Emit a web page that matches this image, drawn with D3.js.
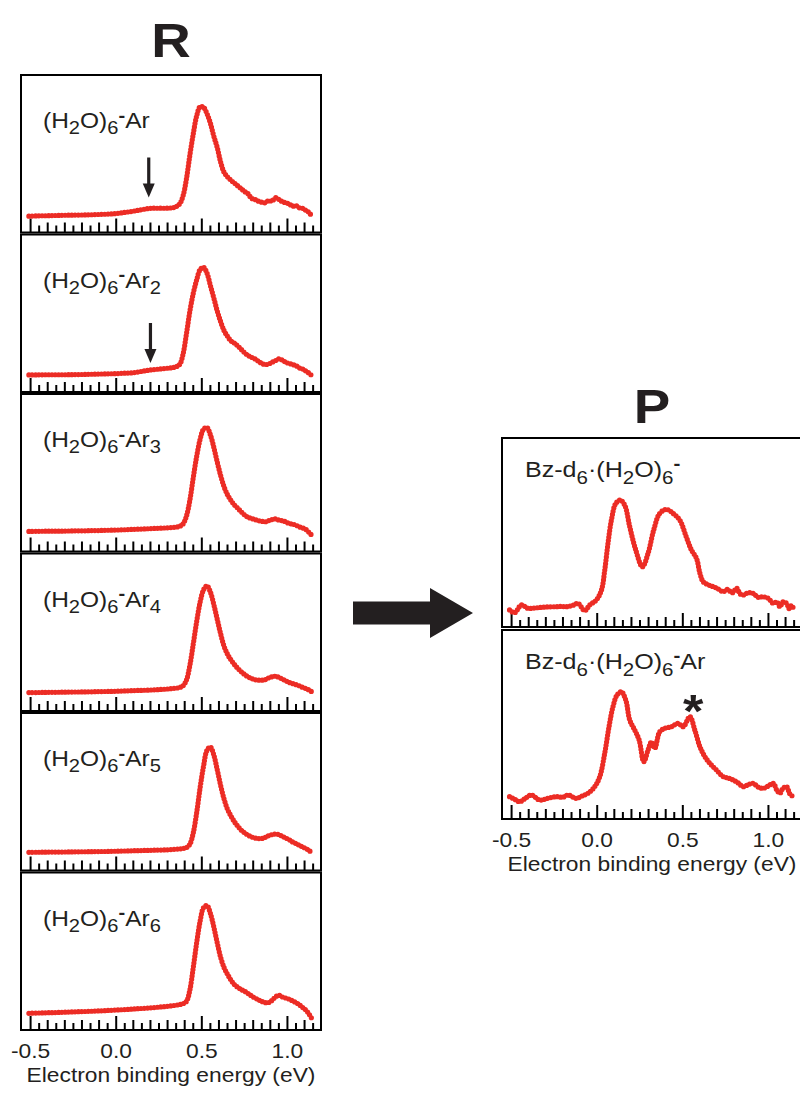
<!DOCTYPE html>
<html>
<head>
<meta charset="utf-8">
<script src="https://cdn.jsdelivr.net/npm/d3@7"></script>
<style>
  body { margin: 0; background: #fff; }
</style>
</head>
<body>
<div id="chart"></div>
<script>
// energies (eV) shared by the six (H2O)6-Arn traces
const energyR = [-0.51, -0.45, -0.40, -0.35, -0.30, -0.25, -0.20, -0.15, -0.10, -0.05, 0.00, 0.05, 0.10, 0.15, 0.20, 0.25, 0.30, 0.34, 0.37,
    0.39, 0.41, 0.43, 0.45, 0.47, 0.49, 0.51, 0.53, 0.55, 0.57, 0.59, 0.61, 0.63, 0.65, 0.67, 0.69, 0.71, 0.73, 0.75, 0.77, 0.79,
    0.81, 0.83, 0.85, 0.87, 0.89, 0.91, 0.93, 0.95, 0.97, 0.99, 1.01, 1.03, 1.05, 1.07, 1.09, 1.11, 1.13, 1.14];

const ar1 = [0.012, 0.015, 0.016, 0.018, 0.020, 0.021, 0.022, 0.024, 0.027, 0.030, 0.035, 0.045, 0.056, 0.070, 0.081, 0.082, 0.083, 0.090, 0.120,
    0.19, 0.34, 0.55, 0.74, 0.90, 0.98, 0.975, 0.92, 0.835, 0.72, 0.62, 0.49, 0.40, 0.36, 0.33, 0.305, 0.28, 0.255, 0.23, 0.21, 0.17,
    0.16, 0.145, 0.135, 0.13, 0.15, 0.145, 0.175, 0.16, 0.14, 0.13, 0.12, 0.10, 0.105, 0.085, 0.08, 0.06, 0.04, 0.01];
const ar2 = [0.018, 0.019, 0.020, 0.020, 0.020, 0.021, 0.022, 0.024, 0.026, 0.028, 0.030, 0.034, 0.038, 0.050, 0.062, 0.070, 0.078, 0.086, 0.110,
    0.20, 0.38, 0.58, 0.74, 0.86, 0.95, 0.97, 0.92, 0.81, 0.70, 0.585, 0.49, 0.41, 0.36, 0.32, 0.30, 0.275, 0.245, 0.215, 0.19, 0.175,
    0.16, 0.14, 0.12, 0.11, 0.115, 0.13, 0.145, 0.16, 0.15, 0.13, 0.12, 0.11, 0.10, 0.08, 0.07, 0.05, 0.03, 0.015];
const ar3 = [0.045, 0.046, 0.047, 0.047, 0.048, 0.050, 0.050, 0.052, 0.053, 0.055, 0.057, 0.060, 0.063, 0.066, 0.070, 0.073, 0.077, 0.082, 0.090,
    0.11, 0.18, 0.32, 0.52, 0.71, 0.86, 0.95, 0.965, 0.90, 0.79, 0.66, 0.54, 0.44, 0.37, 0.32, 0.28, 0.25, 0.22, 0.19, 0.17, 0.16,
    0.15, 0.14, 0.135, 0.13, 0.14, 0.15, 0.155, 0.145, 0.14, 0.13, 0.115, 0.11, 0.10, 0.085, 0.075, 0.06, 0.03, 0.015];
const ar4 = [0.030, 0.031, 0.032, 0.033, 0.034, 0.035, 0.036, 0.037, 0.039, 0.040, 0.042, 0.045, 0.048, 0.050, 0.053, 0.057, 0.062, 0.068, 0.075,
    0.09, 0.14, 0.27, 0.46, 0.66, 0.83, 0.94, 0.975, 0.92, 0.81, 0.68, 0.55, 0.44, 0.37, 0.32, 0.28, 0.245, 0.215, 0.19, 0.17, 0.155,
    0.145, 0.14, 0.14, 0.145, 0.16, 0.17, 0.175, 0.165, 0.15, 0.135, 0.12, 0.11, 0.10, 0.09, 0.075, 0.065, 0.05, 0.04];
const ar5 = [0.028, 0.029, 0.030, 0.030, 0.031, 0.032, 0.033, 0.034, 0.035, 0.036, 0.038, 0.040, 0.042, 0.044, 0.046, 0.048, 0.050, 0.055, 0.058,
    0.062, 0.07, 0.10, 0.20, 0.38, 0.60, 0.79, 0.93, 0.96, 0.89, 0.76, 0.62, 0.50, 0.41, 0.35, 0.30, 0.26, 0.225, 0.20, 0.18, 0.165,
    0.155, 0.15, 0.15, 0.16, 0.175, 0.185, 0.19, 0.185, 0.17, 0.155, 0.14, 0.12, 0.105, 0.09, 0.075, 0.06, 0.04, 0.03];
const ar6 = [0.015, 0.018, 0.020, 0.022, 0.025, 0.028, 0.030, 0.033, 0.036, 0.040, 0.044, 0.048, 0.053, 0.058, 0.063, 0.070, 0.077, 0.085, 0.092,
    0.10, 0.12, 0.22, 0.42, 0.64, 0.83, 0.95, 0.97, 0.90, 0.78, 0.64, 0.51, 0.42, 0.36, 0.31, 0.27, 0.245, 0.225, 0.21, 0.19, 0.17,
    0.15, 0.135, 0.12, 0.11, 0.11, 0.13, 0.16, 0.175, 0.16, 0.15, 0.14, 0.125, 0.11, 0.09, 0.065, 0.04, 0.0, -0.025];
const reactantSeries = [ar1, ar2, ar3, ar4, ar5, ar6];
const argonCounts = [1, 2, 3, 4, 5, 6];

// product traces
const energyP1 = [-0.512, -0.482, -0.443, -0.405, -0.37, -0.336, -0.29, -0.239, -0.21, -0.18, -0.14, -0.112, -0.073, -0.044, -0.005,
    0.025, 0.044, 0.063, 0.083, 0.108, 0.135, 0.161, 0.19, 0.225, 0.264, 0.297, 0.33, 0.365, 0.405, 0.443, 0.482, 0.52, 0.55, 0.58, 0.6,
    0.619, 0.65, 0.677, 0.70, 0.736, 0.76, 0.79, 0.814, 0.835, 0.853, 0.88, 0.911, 0.94, 0.97, 1.0, 1.028, 1.05, 1.067, 1.085, 1.106,
    1.12, 1.136, 1.145];
const bzWater = [0.018, -0.006, 0.062, 0.033, 0.035, 0.04, 0.045, 0.047, 0.05, 0.047, 0.06, 0.077, 0.012, 0.062, 0.106,
    0.195, 0.37, 0.608, 0.814, 0.96, 0.99, 0.945, 0.755, 0.55, 0.40, 0.52, 0.726, 0.873, 0.908, 0.873, 0.814, 0.666, 0.55, 0.475, 0.342,
    0.268, 0.24, 0.224, 0.21, 0.18, 0.2, 0.17, 0.21, 0.16, 0.15, 0.17, 0.165, 0.13, 0.135, 0.12, 0.077, 0.09, 0.047, 0.09, 0.077,
    0.03, 0.06, 0.035];
const energyP2 = [-0.512, -0.48, -0.453, -0.42, -0.385, -0.336, -0.29, -0.239, -0.2, -0.171, -0.122, -0.09, -0.054, -0.015, 0.015,
    0.044, 0.069, 0.092, 0.116, 0.141, 0.167, 0.19, 0.219, 0.245, 0.272, 0.297, 0.317, 0.336, 0.365, 0.395, 0.434, 0.472, 0.502, 0.541,
    0.57, 0.6, 0.629, 0.658, 0.697, 0.736, 0.765, 0.794, 0.82, 0.853, 0.88, 0.911, 0.94, 0.97, 1.0, 1.028, 1.05, 1.067, 1.085, 1.106,
    1.125, 1.145];
const bzWaterAr = [0.065, 0.04, 0.02, 0.05, 0.08, 0.035, 0.05, 0.065, 0.06, 0.08, 0.05, 0.07, 0.095, 0.153, 0.242,
    0.45, 0.684, 0.861, 0.965, 0.994, 0.92, 0.743, 0.655, 0.566, 0.374, 0.478, 0.55, 0.493, 0.64, 0.67, 0.684, 0.714, 0.684, 0.773,
    0.655, 0.507, 0.419, 0.36, 0.30, 0.242, 0.23, 0.212, 0.19, 0.153, 0.17, 0.183, 0.15, 0.139, 0.16, 0.183, 0.12, 0.095, 0.14, 0.153,
    0.09, 0.065];

// markers
const arrowEnergy = [0.19, 0.20];
const arrowTip = [0.177, 0.124];
const starEnergy = 0.56;
const starLevel = 0.93;

const tickLabelValues = [-0.5, 0.0, 0.5, 1.0];
const tickLabels = ['-0.5', '0.0', '0.5', '1.0'];
const axisTitle = 'Electron binding energy (eV)';

const red = '#ec2c25';
const ink = '#231f20';
const stretch = 1.14;
const font = '"Liberation Sans", Arial, sans-serif';

const svg = d3.select('#chart').append('svg')
    .attr('width', 800)
    .attr('height', 1095)
    .style('display', 'block');

const panelW = 300;
const x = d3.scaleLinear().domain([-0.556, 1.196]).range([0, panelW]);

// text drawn slightly widened, like the original artwork
function wideText(parent, px, py, size, anchor) {
    return parent.append('text')
        .attr('transform', 'translate(' + px + ',' + py + ') scale(' + stretch + ',1)')
        .attr('font-family', font)
        .attr('font-size', size)
        .attr('fill', ink)
        .attr('text-anchor', anchor || 'start');
}

// parts: [text, shift] where shift 0 normal, 1 sub, -1 sup
function richText(t, parts, size) {
    let cur = 0;
    parts.forEach(p => {
        let target = p[1] === 1 ? size * 0.3 : p[1] === -1 ? -size * 0.3 : 0;
        t.append('tspan')
            .attr('dy', target - cur)
            .attr('font-size', p[1] === 0 ? size : size * 0.82)
            .attr('font-weight', p[1] === -1 ? 'bold' : null)
            .text(p[0]);
        cur = target;
    });
}

function drawPanel(ox, oy, h, energies, values) {
    const g = svg.append('g').attr('transform', 'translate(' + ox + ',' + oy + ')');
    const y = d3.scaleLinear().domain([0, 1]).range([h - 15, h - 128]);

    g.append('rect')
        .attr('width', panelW)
        .attr('height', h)
        .attr('fill', 'none')
        .attr('stroke', '#000')
        .attr('stroke-width', 2);

    const ticks = d3.range(0, 34).map(i => Math.round((-0.5 + i * 0.05) * 100) / 100);
    g.selectAll('.tick')
        .data(ticks)
        .join('line')
        .attr('x1', d => x(d))
        .attr('x2', d => x(d))
        .attr('y1', h)
        .attr('y2', d => {
            let k = Math.round(d * 100);
            let len = k % 50 === 0 ? 14 : k % 10 === 0 ? 10 : 7;
            return h - len;
        })
        .attr('stroke', '#000')
        .attr('stroke-width', 2);

    const line = d3.line()
        .x(d => x(d[0]))
        .y(d => y(d[1]))
        .curve(d3.curveCatmullRom.alpha(0.5));

    g.append('path')
        .datum(d3.zip(energies, values))
        .attr('d', line)
        .attr('fill', 'none')
        .attr('stroke', red)
        .attr('stroke-width', 5.2)
        .attr('stroke-linecap', 'round')
        .attr('stroke-dasharray', '0 3.3');

    return { g: g, y: y, h: h };
}

function drawAxisLabels(p) {
    tickLabelValues.forEach((v, i) => {
        wideText(p.g, x(v), p.h + 28, 20, 'middle').text(tickLabels[i]);
    });
    wideText(p.g, panelW / 2, p.h + 52, 20, 'middle').text(axisTitle);
}

// reactants column
const leftX = 21, leftTop = 75, leftH = 157.5, leftGap = 2;
const reactantPanels = reactantSeries.map((vals, i) => {
    const p = drawPanel(leftX, leftTop + i * (leftH + leftGap), leftH, energyR, vals);
    const n = argonCounts[i];
    const parts = [['(H', 0], ['2', 1], ['O)', 0], ['6', 1], ['-', -1], ['Ar', 0]];
    if (n > 1) parts.push([String(n), 1]);
    richText(wideText(p.g, 22, 53, 21.5), parts, 21.5);
    return p;
});
drawAxisLabels(reactantPanels[reactantPanels.length - 1]);

// small arrows on the first two reactant traces
arrowEnergy.forEach((e, i) => {
    const p = reactantPanels[i];
    const ax = x(e), tip = p.y(arrowTip[i]);
    p.g.append('line')
        .attr('x1', ax).attr('x2', ax)
        .attr('y1', tip - 40).attr('y2', tip - 10)
        .attr('stroke', ink)
        .attr('stroke-width', 3.2);
    p.g.append('path')
        .attr('d', 'M' + (ax - 6) + ',' + (tip - 14) + 'L' + (ax + 6) + ',' + (tip - 14) + 'L' + ax + ',' + tip + 'Z')
        .attr('fill', ink);
});

// products column
const rightX = 502, rightTop = 438, rightH = 189, rightGap = 3;
const p1 = drawPanel(rightX, rightTop, rightH, energyP1, bzWater);
const p2 = drawPanel(rightX, rightTop + rightH + rightGap, rightH, energyP2, bzWaterAr);
richText(wideText(p1.g, 23, 39, 22),
    [['Bz-d', 0], ['6', 1], ['\u00b7(H', 0], ['2', 1], ['O)', 0], ['6', 1], ['-', -1]], 22);
richText(wideText(p2.g, 23, 39, 22),
    [['Bz-d', 0], ['6', 1], ['\u00b7(H', 0], ['2', 1], ['O)', 0], ['6', 1], ['-', -1], ['Ar', 0]], 22);
wideText(p2.g, x(starEnergy), p2.y(starLevel) + 28, 46, 'middle')
    .attr('font-weight', 'bold')
    .text('*');
drawAxisLabels(p2);

// column headings
wideText(svg, leftX + panelW / 2, 57, 48, 'middle').attr('font-weight', 'bold').text('R');
wideText(svg, rightX + panelW / 2, 423, 48, 'middle').attr('font-weight', 'bold').text('P');

// big reaction arrow
const arrowY = 613;
svg.append('path')
    .attr('d', 'M353,' + (arrowY - 11.5) + 'H430V' + (arrowY - 25) + 'L473,' + arrowY +
        'L430,' + (arrowY + 25) + 'V' + (arrowY + 11.5) + 'H353Z')
    .attr('fill', ink);
</script>
</body>
</html>
